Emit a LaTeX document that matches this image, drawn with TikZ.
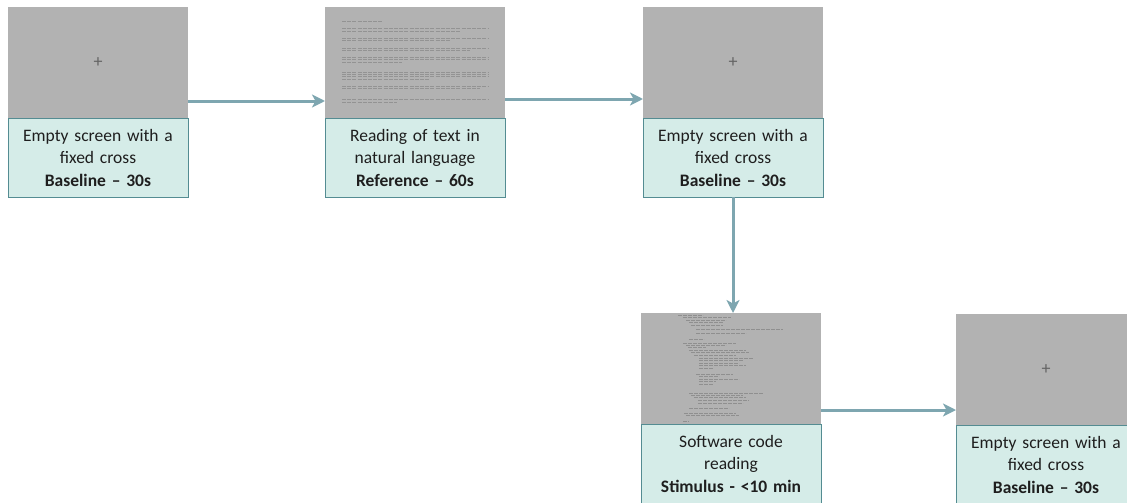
\documentclass[tikz,border=0pt]{standalone}
\usepackage{fontspec}
\setmainfont{Carlito}
\usetikzlibrary{positioning, arrows.meta}

\definecolor{screengray}{RGB}{178,178,178}
\definecolor{capfill}{RGB}{213,236,232}
\definecolor{capborder}{RGB}{84,140,146}
\definecolor{flowline}{RGB}{126,166,176}
\definecolor{inkgray}{RGB}{100,100,100}
\definecolor{captext}{RGB}{30,30,30}

\begin{document}
\begin{tikzpicture}[x=1pt, y=1pt,
  screen/.style={fill=screengray, minimum width=180pt, minimum height=111pt,
    inner sep=0pt, outer sep=0pt, text=inkgray, font=\fontsize{18}{18}\selectfont},
  caption/.style={draw=capborder, fill=capfill, line width=0.9pt,
    minimum width=180pt, minimum height=79pt, text width=178pt, align=center,
    inner sep=0pt, outer sep=0pt, text=captext, font=\fontsize{17.5}{22.5}\selectfont},
  flow/.style={draw=flowline, line width=3pt,
    -{Stealth[length=13pt, width=13pt, inset=3.5pt]}},
  textline/.style={draw=inkgray!40!screengray, line width=0.8pt, dash pattern=on 4pt off 1.2pt},
  codeline/.style={draw=inkgray!45!screengray, line width=0.7pt, dash pattern=on 4pt off 1pt}
]
  \useasboundingbox (0,0) rectangle (1127,-503);

  % screens
  \node[screen] (scr1) at (98,-62.5) {+};
  \node[screen, right=137pt of scr1] (scr2) {};
  \node[screen, right=138pt of scr2] (scr3) {+};

  % captions
  \node[caption, below=0pt of scr1] (cap1) {Empty screen with a\\fixed cross\\\textbf{Baseline -- 30s}};
  \node[caption, below=0pt of scr2] (cap2) {Reading of text in\\natural language\\\textbf{Reference -- 60s}};
  \node[caption, below=0pt of scr3] (cap3) {Empty screen with a\\fixed cross\\\textbf{Baseline -- 30s}};

  \node[screen, below=116pt of cap3, xshift=-2pt] (scr4) {};
  \node[screen, right=135pt of scr4, yshift=-1pt] (scr5) {+};
  \node[caption, below=0pt of scr4] (cap4) {Software code\\reading\\\textbf{Stimulus - <10 min}};
  \node[caption, below=0pt of scr5] (cap5) {Empty screen with a\\fixed cross\\\textbf{Baseline -- 30s}};

  % page of prose on screen 2
  \foreach \dy/\len in {14/40, 21/146, 24/118, 31/146, 33/108, 41/146, 43/128,
      50/146, 52/146, 55/60, 65/146, 67/146, 69/146, 72/88, 79/146, 81/138, 92/146, 95/55}
    \draw[textline] ([shift={(17,-\dy)}]scr2.north west) -- ++(\len,0);

  % listing on screen 4
  \foreach \dy/\xa/\xb in {2/37/62, 4/42/90, 7/45/85, 9/48/82, 12/50/82, 16/55/142,
      20/55/105, 26/48/63, 30/42/95, 32/45/85, 34/47/65, 37/48/105, 39/50/108,
      42/53/95, 45/58/112, 47/58/102, 50/58/98, 52/58/105, 55/58/72, 61/55/92,
      63/58/78, 66/58/98, 68/58/75, 71/58/72, 80/48/122, 82/50/102, 84/53/105,
      87/57/108, 90/57/102, 95/48/88, 100/43/95, 102/45/98, 108/42/48}
    \draw[codeline] ([shift={(\xa,-\dy)}]scr4.north west) -- ([shift={(\xb,-\dy)}]scr4.north west);

  % flow
  \draw[flow] ([yshift=17pt]scr1.south east) -- ([yshift=17pt]scr1.south east -| scr2.west);
  \draw[flow] ([yshift=19pt]scr2.south east) -- ([yshift=19pt]scr2.south east -| scr3.west);
  \draw[flow] (cap3.south) -- (cap3.south |- scr4.north);
  \draw[flow] ([yshift=14pt]scr4.south east) -- ([yshift=14pt]scr4.south east -| scr5.west);
\end{tikzpicture}
\end{document}
